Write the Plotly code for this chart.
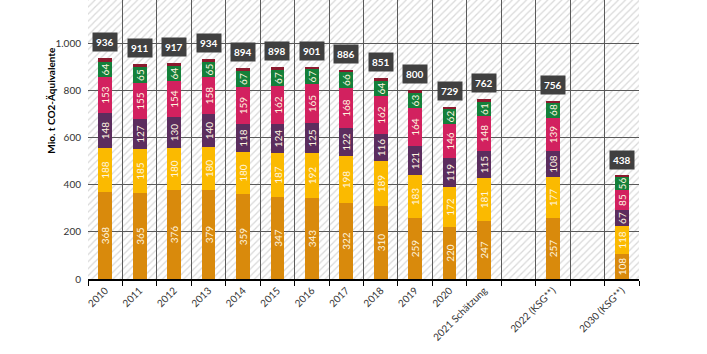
import plotly.graph_objects as go

categories = ["2010", "2011", "2012", "2013", "2014", "2015", "2016", "2017", "2018",
              "2019", "2020", "2021 Schätzung", " ", "2022 (KSG**)", "  ", "2030 (KSG**)"]

energie = [368, 365, 376, 379, 359, 347, 343, 322, 310, 259, 220, 247, None, 257, None, 108]
industrie = [188, 185, 180, 180, 180, 187, 192, 198, 189, 183, 172, 181, None, 177, None, 118]
gebaeude = [148, 127, 130, 140, 118, 124, 125, 122, 116, 121, 119, 115, None, 108, None, 67]
verkehr = [153, 155, 154, 158, 159, 162, 165, 168, 162, 164, 146, 148, None, 139, None, 85]
landwirtschaft = [64, 65, 64, 65, 67, 67, 67, 66, 64, 63, 62, 61, None, 68, None, 56]
totals = [936, 911, 917, 934, 894, 898, 901, 886, 851, 800, 729, 762, None, 756, None, 438]

series = [
    ("Energiewirtschaft", energie, "#D98A0C"),
    ("Industrie", industrie, "#FBBA00"),
    ("Gebäude", gebaeude, "#5C2D5E"),
    ("Verkehr", verkehr, "#D2215F"),
    ("Landwirtschaft", landwirtschaft, "#14803A"),
]

# remaining (sonstige / Abfall) = total minus shown sectors
sonstige = []
for i, t in enumerate(totals):
    if t is None:
        sonstige.append(None)
    else:
        sonstige.append(t - sum(s[1][i] for s in series))

FONT = "Lato"
YMAX = 1183

fig = go.Figure()

# hatched background (separate subplot underneath)
fig.add_trace(go.Bar(
    x=[0], y=[YMAX], width=[1], xaxis="x", yaxis="y",
    marker=dict(color="white", line=dict(width=0),
                pattern=dict(shape="/", size=5, solidity=0.25,
                             fgcolor="#B4B4B4", bgcolor="white")),
    hoverinfo="skip", showlegend=False,
))

for name, vals, col in series:
    fig.add_trace(go.Bar(
        x=categories, y=vals, name=name, xaxis="x2", yaxis="y2",
        width=0.4, marker=dict(color=col, line=dict(width=0)),
        texttemplate="%{y}", textposition="inside", insidetextanchor="middle",
        textangle=-90, textfont=dict(family=FONT, size=10, color="#FFF6E0"),
        showlegend=False,
    ))

fig.add_trace(go.Bar(
    x=categories, y=sonstige, name="Sonstige", xaxis="x2", yaxis="y2",
    width=0.4, marker=dict(color="#8B1A2E", line=dict(width=0)),
    textposition="none", showlegend=False,
))

for i, t in enumerate(totals):
    if t is None:
        continue
    fig.add_annotation(
        x=i, y=t, xref="x2", yref="y2", text=f"<b>{t}</b>", showarrow=False,
        yanchor="bottom", yshift=6, bgcolor="#404040", borderpad=3,
        font=dict(family=FONT, size=10, color="white"),
    )

fig.add_annotation(
    x=-0.082, y=0.642, xref="paper", yref="paper",
    text="<b>Mio. t CO2-Äquivalente</b>", textangle=-90, showarrow=False,
    font=dict(family=FONT, size=10, color="#000000"),
)

fig.update_layout(
    width=707, height=354,
    margin=dict(l=88, r=68, t=0, b=75),
    paper_bgcolor="white", plot_bgcolor="rgba(0,0,0,0)",
    barmode="stack", bargap=0,
    separators=",.",
    font=dict(family=FONT, size=10, color="#333333"),
    uniformtext=dict(minsize=8, mode="show"),
    xaxis=dict(domain=[0, 1], range=[-0.5, 0.5], visible=False, fixedrange=True),
    yaxis=dict(domain=[0, 1], range=[0, YMAX], visible=False, anchor="x"),
    xaxis2=dict(
        domain=[0, 1], anchor="y2", type="category",
        categoryorder="array", categoryarray=categories,
        range=[-0.5, len(categories) - 0.5],
        tickson="boundaries", ticks="outside", ticklen=5, tickcolor="#000000",
        showgrid=True, gridcolor="#5A5A5A", gridwidth=1,
        showline=True, linecolor="#000000", linewidth=1.5,
        tickangle=-45, tickfont=dict(family=FONT, size=10, color="#333333"),
    ),
    yaxis2=dict(
        domain=[0, 1], anchor="x2", range=[0, YMAX],
        tickvals=[0, 200, 400, 600, 800, 1000, 1200],
        tickformat=",d",
        showgrid=True, gridcolor="#5A5A5A", gridwidth=1,
        zeroline=False, ticks="", ticklabelstandoff=6,
        tickfont=dict(family=FONT, size=10, color="#333333"),
    ),
)

fig.write_html("out.html")
